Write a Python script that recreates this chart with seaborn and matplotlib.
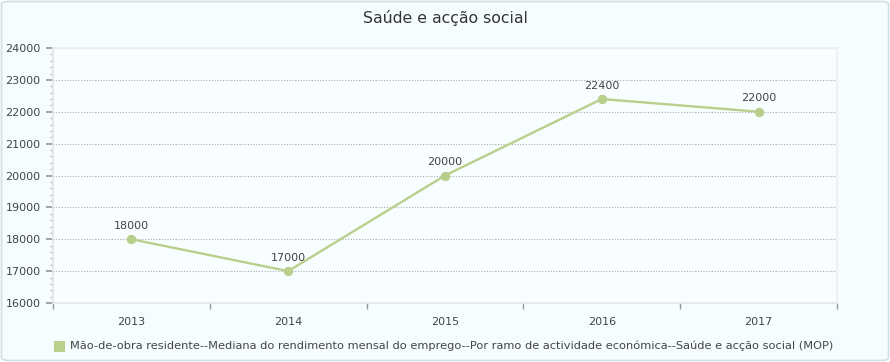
import matplotlib
matplotlib.use("Agg")
import matplotlib.pyplot as plt
import seaborn as sns
import pandas as pd
from matplotlib.patches import FancyBboxPatch, Rectangle
from matplotlib.ticker import MultipleLocator

years = ["2013", "2014", "2015", "2016", "2017"]
values = [18000, 17000, 20000, 22400, 22000]
series_name = "Mão-de-obra residente--Mediana do rendimento mensal do emprego--Por ramo de actividade económica--Saúde e acção social (MOP)"
title = "Saúde e acção social"

sns.set_theme(style="white")
plt.rcParams['font.family'] = ['DejaVu Sans']

df = pd.DataFrame({"year": years, "value": values})
df["pos"] = range(len(years))

W, H = 890, 362
fig = plt.figure(figsize=(W/100, H/100), dpi=100)
fig.patch.set_facecolor("white")
bg = FancyBboxPatch((1.5/W, 1.5/H), (W-3)/W, (H-3)/H,
                    boxstyle="round,pad=0,rounding_size=0.008",
                    transform=fig.transFigure, facecolor="#F5FDFF",
                    edgecolor="#D3DEE2", linewidth=1.2, zorder=-10)
fig.patches.append(bg)

ax = fig.add_axes([53/W, 59/H, (837-53)/W, (303-48)/H])
ax.set_facecolor("#F8FEFF")
color = "#B9CF8C"
sns.lineplot(data=df, x="pos", y="value", ax=ax, color=color, linewidth=1.7,
             marker="o", markersize=6, markeredgecolor=color, markerfacecolor=color)

for p, v in zip(df["pos"], df["value"]):
    ax.annotate(f"{v}", (p, v), xytext=(0, 6), textcoords="offset points",
                ha="center", va="bottom", fontsize=8, color="#444444")

ax.set_xlim(-0.5, len(years) - 0.5)
ax.set_ylim(16000, 24000)
ax.set_xticks(range(len(years)))
ax.set_xticklabels(years)
ax.set_xticks([i - 0.5 for i in range(len(years) + 1)], minor=True)
ax.yaxis.set_major_locator(MultipleLocator(1000))
ax.yaxis.set_minor_locator(MultipleLocator(200))
ax.tick_params(axis="x", which="major", length=0, pad=10, labelsize=8, labelcolor="#444444")
ax.tick_params(axis="x", which="minor", length=4, color="#999999", direction="out", bottom=True)
ax.tick_params(axis="y", which="major", length=5, color="#999999", labelsize=8,
               labelcolor="#444444", pad=4, left=True)
ax.tick_params(axis="y", which="minor", length=2, color="#BBBBBB", left=True)
ax.grid(axis="y", which="major", linestyle=(0, (1, 1.5)), color="#AAAAAA", linewidth=0.8)
ax.set_xlabel("")
ax.set_ylabel("")
for s in ["top", "right"]:
    ax.spines[s].set_color("#EEEEEE")
ax.spines["left"].set_color("#E6E6E6")
ax.spines["bottom"].set_color("#E6E6E6")

fig.text(0.5, 1 - 18/H, title, ha="center", va="center", fontsize=11.3, color="#333333")

fig.patches.append(Rectangle((54/W, 1 - 352/H), 11/W, 11/H, transform=fig.transFigure,
                             facecolor=color, edgecolor="none"))
fig.text(70/W, 1 - 346/H, series_name, ha="left", va="center", fontsize=8.2, color="#444444")

fig.savefig("out.png", dpi=100, facecolor=fig.get_facecolor())
